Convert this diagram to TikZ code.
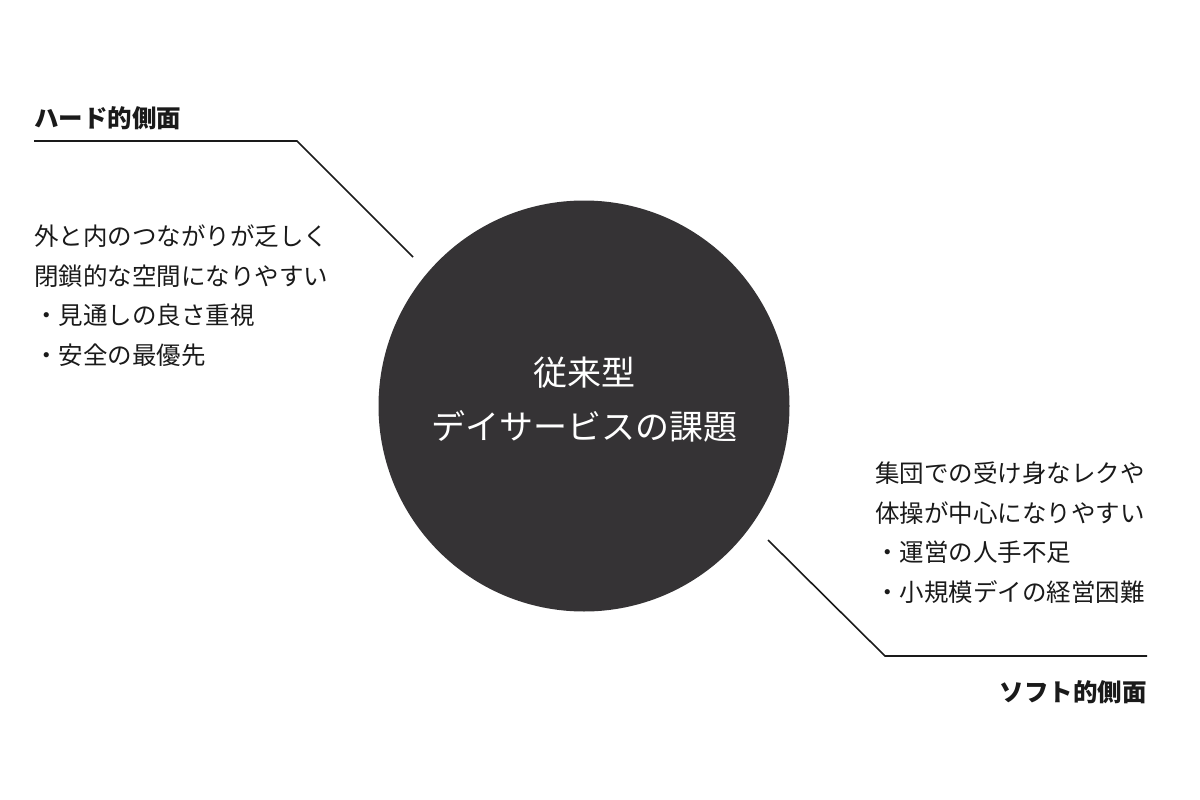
\documentclass[tikz,border=0pt]{standalone}
\usepackage{fontspec}
\setmainfont{Noto Sans CJK JP}
\definecolor{disc}{RGB}{53,51,53}
\definecolor{ink}{RGB}{26,26,26}
\begin{document}
\begin{tikzpicture}[x=1pt,y=-1pt,
  leader/.style={draw=ink, line width=1.6pt},
  heading/.style={font=\fontsize{24.5}{28}\selectfont\bfseries, text=ink, inner sep=0pt},
  body/.style={font=\fontsize{24.5}{39.5}\selectfont, text=ink, inner sep=0pt},
  centretext/.style={font=\fontsize{34}{54}\selectfont, text=white, align=center, inner sep=0pt}]
\useasboundingbox (0,0) rectangle (1200,800);
\node[circle, fill=disc, minimum size=411pt, inner sep=0pt] (c) at (584,406) {};
\node[centretext] (ct) at (584,400) {従来型\\デイサービスの課題};
\node[heading, anchor=base west] (h1) at (34,128) {ハード的側面};
\node[heading, anchor=base east] (h2) at (1147,701) {ソフト的側面};
\node[body, anchor=base west, align=left] (t1) at (34,364) {外と内のつながりが乏しく\\閉鎖的な空間になりやすい\\・見通しの良さ重視\\・安全の最優先};
\node[body, anchor=base west, align=left] (t2) at (875,601) {集団での受け身なレクや\\体操が中心になりやすい\\・運営の人手不足\\・小規模デイの経営困難};
\coordinate (a0) at (34,141);
\coordinate (a1) at (297,141);
\coordinate (a2) at (413,257);
\coordinate (b0) at (768,540);
\coordinate (b1) at (885,656);
\coordinate (b2) at (1147,656);
\draw[leader] (a0) -- (a1) -- (a2);
\draw[leader] (b0) -- (b1) -- (b2);
\end{tikzpicture}
\end{document}
